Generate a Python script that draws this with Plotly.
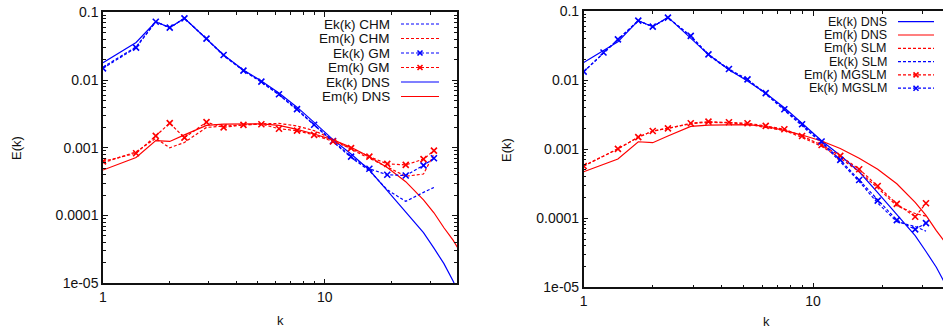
import plotly.graph_objects as go

# ---------------- data ----------------
k_dns = [1, 1.41, 1.73, 2, 2.33, 2.93, 3.5, 4.3, 5.18, 6.22, 7.5, 8.96, 10.9, 13.15,
         15.9, 19.15, 23.2, 27.9, 31.1, 34.5, 38, 42]
ek_dns = [0.0180, 0.0359, 0.0726, 0.0593, 0.0815, 0.0408, 0.0234, 0.0141, 0.0097, 0.00646,
          0.00398, 0.00237, 0.00132, 0.00081, 0.00047, 0.000234, 0.000115, 5.6e-5, 3.3e-5,
          1.95e-5, 1.07e-5, 5.0e-6]
em_dns = [0.00047, 0.00072, 0.00128, 0.00124, 0.00155, 0.00214, 0.00223, 0.00225, 0.00226,
          0.00214, 0.00187, 0.0016, 0.00131, 0.00102, 0.00074, 0.00051, 0.000316, 0.00017,
          0.00011, 6.6e-5, 4.3e-5, 2.5e-5]

k_les = [1, 1.41, 1.73, 2, 2.33, 2.93, 3.5, 4.3, 5.18, 6.22, 7.5, 8.96, 10.9, 13.15,
         15.9, 19.15, 23.2, 27.9, 31.1]
ek_chm = [0.0155, 0.0309, 0.0726, 0.0593, 0.0815, 0.0408, 0.0229, 0.0138, 0.0093, 0.00603,
          0.00363, 0.00214, 0.00123, 0.00072, 0.00046, 0.00024, 0.000162, 0.00022, 0.00026]
em_chm = [0.0006, 0.00087, 0.00138, 0.0010, 0.0012, 0.0020, 0.00209, 0.00219, 0.00226,
          0.00229, 0.0021, 0.00179, 0.00134, 0.00095, 0.00071, 0.00052, 0.00038, 0.00041, 0.00081]
ek_gm = [0.0149, 0.0301, 0.0726, 0.0593, 0.0815, 0.0408, 0.0234, 0.0138, 0.0095, 0.00617,
         0.00372, 0.00219, 0.00126, 0.00074, 0.00049, 0.00040, 0.00039, 0.00055, 0.0007]
em_gm = [0.00063, 0.00083, 0.0015, 0.00231, 0.00141, 0.00239, 0.0020, 0.00218, 0.00223,
         0.00191, 0.00179, 0.00155, 0.00124, 0.00099, 0.00074, 0.00058, 0.00056, 0.00068, 0.00091]

k_mg = [1, 1.22, 1.41, 1.73, 2, 2.33, 2.93, 3.5, 4.3, 5.18, 6.22, 7.5, 8.96, 10.9, 13.15,
        15.9, 19.15, 23.2, 27.9, 31.1]
ek_mgslm = [0.01324, 0.0251, 0.0389, 0.0724, 0.0593, 0.080, 0.0437, 0.0236, 0.01445, 0.01023,
            0.00646, 0.00378, 0.00229, 0.00129, 0.000698, 0.000358, 0.00018, 9.4e-5, 6.9e-5, 8.5e-5]
em_mgslm = [0.000571, 0.00101, 0.00149, 0.00183, 0.0020, 0.00237, 0.0025, 0.00245,
            0.00237, 0.00217, 0.00194, 0.00155, 0.00115, 0.000798, 0.000512, 0.000293,
            0.000161, 0.000105, 0.000165]
ek_slm = [0.0132, 0.0389, 0.0724, 0.0593, 0.080, 0.0427, 0.0229, 0.0141, 0.0100, 0.0063,
          0.00363, 0.00219, 0.00123, 0.00066, 0.00034, 0.000166, 8.9e-5, 7.6e-5, 6.5e-5]
em_slm = [0.000571, 0.00101, 0.00149, 0.00183, 0.0020, 0.00234, 0.00245, 0.0024, 0.00229,
          0.00209, 0.00186, 0.00148, 0.0011, 0.00074, 0.00047, 0.000275, 0.000151, 0.000117,
          0.000107]

x_tickvals = [1, 10]
x_ticktext = ["1", "10"]
y_tickvals = [1e-5, 1e-4, 1e-3, 1e-2, 1e-1]
y_ticktext = ["1e-05", "0.0001", "0.001", "0.01", "0.1"]

left_legend = ["Ek(k) CHM", "Em(k) CHM", "Ek(k) GM", "Em(k) GM", "Ek(k) DNS", "Em(k) DNS"]
right_legend = ["Ek(k) DNS", "Em(k) DNS", "Em(k) SLM", "Ek(k) SLM", "Em(k) MGSLM", "Ek(k) MGSLM"]

# ---------------- styling ----------------
BLUE = "#0000ff"
RED = "#ff0000"
DASH = "3px,2px"
FONT = "Liberation Sans, Arial, sans-serif"
W, H = 943, 329

fig = go.Figure()


def add(x, y, color, dashed, marker, xa, ya):
    fig.add_trace(go.Scatter(
        x=x, y=y, xaxis=xa, yaxis=ya, showlegend=False, hoverinfo="skip",
        mode="lines+markers" if marker else "lines",
        line=dict(color=color, width=1.2, dash=DASH if dashed else "solid"),
        marker=dict(symbol="x-thin", size=6, color=color,
                    line=dict(color=color, width=1.6)) if marker else None,
    ))


# left panel
add(k_dns, ek_dns, BLUE, False, False, "x", "y")
add(k_dns, em_dns, RED, False, False, "x", "y")
add(k_les, ek_chm, BLUE, True, False, "x", "y")
add(k_les, em_chm, RED, True, False, "x", "y")
add(k_les, ek_gm, BLUE, True, True, "x", "y")
add(k_les, em_gm, RED, True, True, "x", "y")
# right panel
add(k_dns, ek_dns, BLUE, False, False, "x2", "y2")
add(k_dns, em_dns, RED, False, False, "x2", "y2")
add(k_les, em_slm, RED, True, False, "x2", "y2")
add(k_les, ek_slm, BLUE, True, False, "x2", "y2")
add(k_les, em_mgslm, RED, True, True, "x2", "y2")
add(k_mg, ek_mgslm, BLUE, True, True, "x2", "y2")

x_minor = [m * d for d in (1, 10) for m in range(2, 10)]
y_minor = [m * d for d in (1e-5, 1e-4, 1e-3, 1e-2) for m in range(2, 10)]


def xaxis(domain, rng, mirror, anchor):
    return dict(type="log", domain=domain, range=rng, anchor=anchor, automargin=False,
                showline=True, linecolor="#111",
                linewidth=1.5, mirror=mirror, ticks="inside", ticklen=5, tickcolor="#111",
                tickvals=x_tickvals, ticktext=x_ticktext, showgrid=False, zeroline=False,
                tickfont=dict(family=FONT, size=14, color="#111"),
                minor=dict(tickvals=x_minor, ticks="inside", ticklen=3, tickcolor="#111",
                           showgrid=False))


def yaxis(domain, anchor, mirror):
    return dict(type="log", domain=domain, range=[-5, -1], anchor=anchor, automargin=False,
                showline=True,
                linecolor="#111", linewidth=1.5, mirror=mirror, ticks="inside", ticklen=5,
                tickcolor="#111", tickvals=y_tickvals, ticktext=y_ticktext, showgrid=False,
                zeroline=False, tickfont=dict(family=FONT, size=14, color="#111"),
                minor=dict(tickvals=y_minor, ticks="inside", ticklen=3, tickcolor="#111",
                           showgrid=False))


# pixel geometry
L1, R1, T1, B1 = 103, 457, 12.3, 283.3
L2, T2, B2 = 583.7, 11, 287.3
xr1 = (R1 - L1) / 221.7
xr2 = (W - L2) / 229.3

fig.update_layout(
    width=W, height=H, margin=dict(l=0, r=0, t=0, b=0, autoexpand=False),
    paper_bgcolor="white", plot_bgcolor="white",
    font=dict(family=FONT, size=13, color="#111"),
    xaxis=xaxis([L1 / W, R1 / W], [0, xr1], "ticks", "y"),
    yaxis=yaxis([1 - B1 / H, 1 - T1 / H], "x", "ticks"),
    xaxis2=xaxis([L2 / W, 1.0], [0, xr2], "ticks", "y2"),
    yaxis2=yaxis([1 - B2 / H, 1 - T2 / H], "x2", False),
)

annotations = []
shapes = []


def label(text, xpx, ypx, anchor="center", angle=0, size=13):
    annotations.append(dict(text=text, x=xpx / W, y=1 - ypx / H, xref="paper", yref="paper",
                            xanchor=anchor, yanchor="middle", showarrow=False, textangle=angle,
                            font=dict(family=FONT, size=size, color="#111")))


# axis titles
label("E(k)", 17, 148, angle=-90)
label("k", 280, 320)
label("E(k)", 506, 150, angle=-90)
label("k", 766, 321)

# custom gnuplot-like legends
left_styles = [(BLUE, True, False), (RED, True, False), (BLUE, True, True),
               (RED, True, True), (BLUE, False, False), (RED, False, False)]
right_styles = [(BLUE, False, False), (RED, False, False), (RED, True, False),
                (BLUE, True, False), (RED, True, True), (BLUE, True, True)]


def legend(names, styles, text_x, x0, x1, y0, dy, size):
    for i, (name, (color, dashed, marker)) in enumerate(zip(names, styles)):
        y = y0 + i * dy
        label(name, text_x, y, anchor="right", size=size)
        shapes.append(dict(type="line", xref="paper", yref="paper", x0=x0 / W, x1=x1 / W,
                           y0=1 - y / H, y1=1 - y / H,
                           line=dict(color=color, width=1.2, dash=DASH if dashed else "solid")))
        if marker:
            xm, s = (x0 + x1) / 2, 2.5
            for a, b in ((-s, -s), (-s, s)):
                shapes.append(dict(type="line", xref="paper", yref="paper",
                                   x0=(xm + a) / W, x1=(xm - a) / W,
                                   y0=1 - (y + b) / H, y1=1 - (y - b) / H,
                                   line=dict(color=color, width=1.6)))


legend(left_legend, left_styles, 392, 401, 439, 24, 14.5, 13.5)
legend(right_legend, right_styles, 889, 898, 934, 21.7, 13.3, 12.5)

fig.update_layout(annotations=annotations, shapes=shapes)
fig.write_html("out.html", config={"displayModeBar": False},
               post_script="document.body.style.margin='0px';"
                           "document.body.style.overflow='hidden';")
